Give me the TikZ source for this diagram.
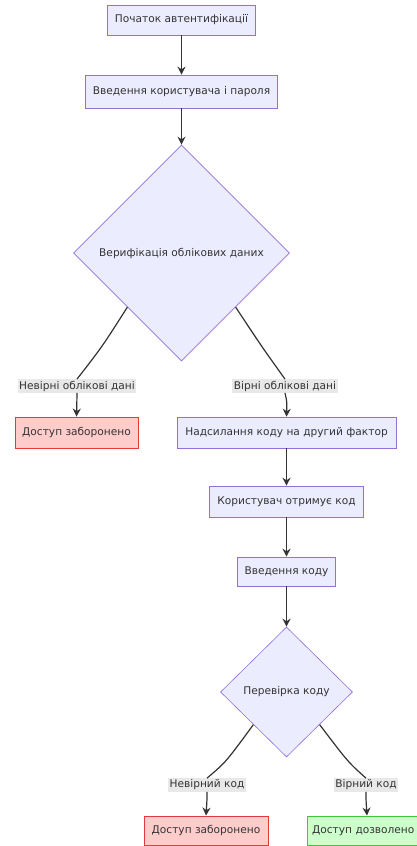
\documentclass[tikz,border=0pt]{standalone}
\usepackage{fontspec}
\setmainfont{DejaVu Sans}
\usetikzlibrary{shapes.geometric,arrows.meta}

\definecolor{procfill}{HTML}{ECECFF}
\definecolor{procline}{HTML}{9370DB}
\definecolor{denyfill}{HTML}{FFCCCC}
\definecolor{denyline}{HTML}{E23B3B}
\definecolor{okfill}{HTML}{CCFFCC}
\definecolor{okline}{HTML}{3CC83C}
\definecolor{txt}{HTML}{333333}
\definecolor{edgecol}{HTML}{333333}
\definecolor{labbg}{HTML}{E8E8E8}

\newcommand{\chartfont}{\fontsize{10.6}{12}\selectfont}

\tikzset{
  proc/.style={draw=procline, fill=procfill, line width=0.6pt, inner sep=0pt,
    text=txt, font=\chartfont, anchor=center},
  deny/.style={proc, draw=denyline, fill=denyfill, line width=0.9pt},
  okbox/.style={proc, draw=okline, fill=okfill, line width=0.9pt},
  decision/.style={diamond, draw=procline, fill=procfill, line width=0.6pt,
    inner sep=0pt, text=txt, font=\chartfont},
  elabel/.style={fill=labbg, inner sep=1.5pt, text=txt, font=\chartfont},
  flow/.style={draw=edgecol, line width=1.2pt},
  arr/.style={flow, -{Stealth[length=8pt,width=8pt]}}
}

\begin{document}
\begin{tikzpicture}[x=1pt,y=-1pt]
  \useasboundingbox[fill=white] (0,0) rectangle (417,846);

  % main authentication chain
  \node[proc, minimum width=148pt, minimum height=30pt] (start) at (181.5,20) {Початок автентифікації};
  \node[proc, minimum width=192pt, minimum height=33pt] (login) at (181.5,91.5) {Введення користувача і пароля};
  \node[decision, minimum width=216pt, minimum height=216pt] (verify) at (181.5,253) {Верифікація облікових даних};

  \node[elabel] (badcred) at (77,386) {Невірні облікові дані};
  \node[elabel] (goodcred) at (285,386) {Вірні облікові дані};

  \node[deny, minimum width=123pt, minimum height=31pt] (deny1) at (76.5,432.5) {Доступ заборонено};
  \node[proc, minimum width=219pt, minimum height=31pt] (send) at (286.5,432.5) {Надсилання коду на другий фактор};
  \node[proc, minimum width=154pt, minimum height=31pt] (receive) at (286.5,501.5) {Користувач отримує код};
  \node[proc, minimum width=98pt, minimum height=29pt] (entercode) at (286.5,571.5) {Введення коду};
  \node[decision, minimum width=132pt, minimum height=130pt] (check) at (286.5,692) {Перевірка коду};

  \node[elabel] (badcode) at (207,785) {Невірний код};
  \node[elabel] (goodcode) at (366,785) {Вірний код};

  \node[deny, minimum width=124pt, minimum height=29pt] (deny2) at (206,830.5) {Доступ заборонено};
  \node[okbox, minimum width=120pt, minimum height=29pt, text width=110pt, align=left] (allow) at (367,830.5) {Доступ дозволено};

  % connectors
  \draw[arr] (start) -- (login);
  \draw[arr] (login) -- (verify);

  \draw[flow] (verify.south west) .. controls (102,347) .. (badcred.north);
  \draw[arr] (badcred.south) .. controls (77,402) .. (deny1.north);
  \draw[flow] (verify.south east) .. controls (262,347) .. (goodcred.north);
  \draw[arr] (goodcred.south) .. controls (287,402) .. (send.north);

  \draw[arr] (send) -- (receive);
  \draw[arr] (receive) -- (entercode);
  \draw[arr] (entercode) -- (check);

  \draw[flow] (check.south west) .. controls (226,762) .. (badcode.north);
  \draw[arr] (badcode.south) .. controls (207,800) .. (deny2.north);
  \draw[flow] (check.south east) .. controls (348,762) .. (goodcode.north);
  \draw[arr] (goodcode.south) .. controls (366,800) .. (allow.north);
\end{tikzpicture}
\end{document}
